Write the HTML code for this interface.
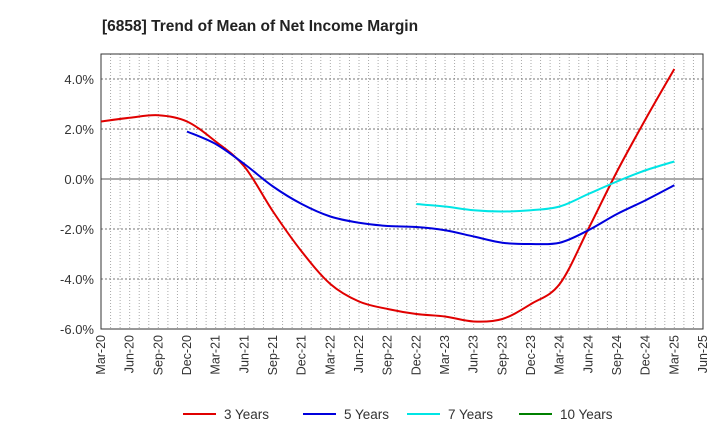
<!DOCTYPE html>
<html><head><meta charset="utf-8"><style>
body{margin:0;background:#fff;font-family:"Liberation Sans",sans-serif}
</style></head><body>
<svg id="c" width="720" height="440" xmlns="http://www.w3.org/2000/svg" font-family="Liberation Sans, sans-serif">
<text x="102" y="31" font-size="15.5" font-weight="bold" fill="#222">[6858]  Trend of Mean of Net Income Margin</text>
<g id="grid"></g><g id="axes"></g><g id="series"></g><g id="legend"></g>
</svg>
<script>
const xLabels=["Mar-20","Jun-20","Sep-20","Dec-20","Mar-21","Jun-21","Sep-21","Dec-21","Mar-22","Jun-22","Sep-22","Dec-22","Mar-23","Jun-23","Sep-23","Dec-23","Mar-24","Jun-24","Sep-24","Dec-24","Mar-25","Jun-25"];
const yTicks=[4,2,0,-2,-4,-6];
const s3=[2.3,2.45,2.55,2.3,1.5,0.5,-1.3,-2.9,-4.2,-4.9,-5.2,-5.4,-5.5,-5.7,-5.6,-5.0,-4.2,-2.0,0.3,2.4,4.4];
const s5=[null,null,null,1.9,1.4,0.6,-0.3,-1.0,-1.5,-1.75,-1.88,-1.92,-2.05,-2.3,-2.55,-2.6,-2.55,-2.05,-1.4,-0.85,-0.25];
const s7=[null,null,null,null,null,null,null,null,null,null,null,-1.0,-1.1,-1.25,-1.3,-1.25,-1.1,-0.6,-0.1,0.35,0.7];
const s10=[];
const L=101,R=703,T=54,B=329,yMin=-6,yMax=5;
const NS="http://www.w3.org/2000/svg";
const X=i=>L+i*(R-L)/21, Y=v=>B-(v-yMin)*(B-T)/(yMax-yMin);
function mk(p,tag,a){const e=document.createElementNS(NS,tag);for(const k in a)e.setAttribute(k,a[k]);p.appendChild(e);return e;}
const grid=document.getElementById('grid'),axes=document.getElementById('axes'),ser=document.getElementById('series'),leg=document.getElementById('legend');
for(let m=1;m<63;m++){const x=L+m*(R-L)/63;const g=mk(grid,'line',{x1:x,x2:x,y1:T,y2:B,stroke:'#aaa','stroke-dasharray':'1,2','stroke-width':1});
}
yTicks.forEach(v=>{const y=Y(v);
if(v!==0&&v!==yMin){const g=mk(grid,'line',{x1:L,x2:R,y1:y,y2:y,stroke:'#777','stroke-dasharray':'2,2'});}
const t=mk(axes,'text',{x:L-7,y:y+5,'text-anchor':'end','font-size':13,fill:'#333'});t.textContent=v.toFixed(1)+'%';
});
const z=mk(axes,'line',{x1:L,x2:R,y1:Y(0),y2:Y(0),stroke:'#555'});
const fr=mk(axes,'rect',{x:L,y:T,width:R-L,height:B-T,fill:'none',stroke:'#333'});
xLabels.forEach((l,i)=>{const x=X(i);const t=mk(axes,'text',{transform:`translate(${x+4},${B+6}) rotate(-90)`,'text-anchor':'end','font-size':12.5,fill:'#333'});t.textContent=l;
});
function path(data){const pts=[];data.forEach((v,i)=>{if(v!=null)pts.push([X(i),Y(v)]);});if(pts.length<2)return'';
let d=`M${pts[0][0]},${pts[0][1]}`;for(let i=0;i<pts.length-1;i++){const p0=pts[i-1]||pts[i],p1=pts[i],p2=pts[i+1],p3=pts[i+2]||p2;
d+=` C${p1[0]+(p2[0]-p0[0])/6},${p1[1]+(p2[1]-p0[1])/6} ${p2[0]-(p3[0]-p1[0])/6},${p2[1]-(p3[1]-p1[1])/6} ${p2[0]},${p2[1]}`;}return d;}
const series=[["3 Years",s3,"#e00000"],["5 Years",s5,"#0000dd"],["7 Years",s7,"#00e5e5"],["10 Years",s10,"#008000"]];
series.forEach(([n,d,c],k)=>{const pd=path(d);if(pd){const p=mk(ser,'path',{d:pd,fill:'none',stroke:c,'stroke-width':2});
}
const lx=[183,303,407,519][k];const ln=mk(leg,'line',{x1:lx,x2:lx+33,y1:414,y2:414,stroke:c,'stroke-width':2});

const t=mk(leg,'text',{x:lx+41,y:419,'font-size':13.5,fill:'#333'});t.textContent=n;
});
</script>
</body></html>
